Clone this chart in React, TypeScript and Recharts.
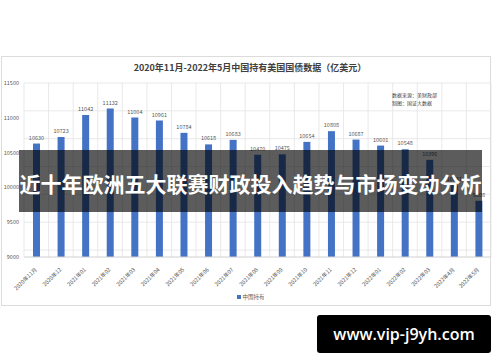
import React from "react";
import { BarChart, Bar, XAxis, YAxis, CartesianGrid, LabelList } from "recharts";

// China's holdings of US treasuries, Nov 2020 - May 2022 (100 million USD)
const months = [
  "2020年11月", "2020年12", "2021年01", "2021年02", "2021年03", "2021年04", "2021年05",
  "2021年06", "2021年07", "2021年08", "2021年09", "2021年10", "2021年11", "2021年12",
  "2022年01", "2022年02", "2022年03", "2022年4月", "2022年5月",
];
const holdings = [
  10630, 10723, 11042, 11132, 11004, 10961, 10784, 10618, 10683, 10470,
  10475, 10654, 10808, 10687, 10601, 10548, 10396, 10031, 9808,
];
const yTicks = [9000, 9500, 10000, 10500, 11000, 11500];

const data = months.map((m, i) => ({ month: m, value: holdings[i], idx: i }));

// minor grid every 100, and vertical lines on the category edges
const minorY: number[] = [];
for (let v = 9000; v <= 11500; v += 100) minorY.push(v);
const edges = months.map((_, i) => i).concat([months.length]);

const grey = "#595959";
const cjk = '"Noto Sans CJK SC", "Noto Sans", sans-serif';

function MonthTick(props: any) {
  const { x, y, payload } = props;
  return (
    <text
      x={x + 1}
      y={y + 5}
      transform={`rotate(-45, ${x + 1}, ${y + 5})`}
      textAnchor="end"
      fontSize={5.5}
      fill={grey}
      fontFamily={cjk}
    >
      {payload.value}
    </text>
  );
}

export default function App() {
  return (
    <div style={{ position: "absolute", left: 0, top: 0, width: 500, height: 362, background: "#fff", fontFamily: cjk }}>
      {/* card */}
      <div style={{ position: "absolute", left: 1, top: 56, width: 488, height: 248, border: "1px solid #dcdcdc", background: "#fff" }} />
      <div style={{ position: "absolute", left: 0, top: 62, width: 500, textAlign: "center", fontSize: 9, lineHeight: "12px", fontWeight: 700, color: "#404040" }}>
        2020年11月-2022年5月中国持有美国国债数据（亿美元）
      </div>
      <div style={{ position: "absolute", left: 0, top: 0 }}>
        <BarChart width={500} height={362} data={data} margin={{ top: 83, right: 9, bottom: 65, left: 0 }}>
          <CartesianGrid
            xAxisId="grid"
            stroke="#e3e3e3"
            strokeWidth={0.8}
            horizontalValues={minorY}
            verticalValues={edges}
          />
          <XAxis xAxisId="grid" type="number" dataKey="idx" domain={[0, months.length]} ticks={edges} hide />
          <XAxis
            dataKey="month"
            interval={0}
            height={40}
            tick={<MonthTick />}
            tickLine={false}
            axisLine={{ stroke: "#d0d0d0" }}
          />
          <YAxis
            domain={[9000, 11500]}
            ticks={yTicks}
            width={24}
            tickLine={false}
            axisLine={false}
            tickSize={3}
            tickMargin={2}
            tick={{ fontSize: 5.5, fill: grey }}
          />
          <Bar dataKey="value" fill="#4472C4" barSize={7} isAnimationActive={false}>
            <LabelList dataKey="value" position="top" offset={4} fontSize={5.5} fill={grey} />
          </Bar>
        </BarChart>
      </div>
      <div style={{ position: "absolute", left: 392, top: 91, fontSize: 5, lineHeight: "8px", color: "#404040" }}>
        数据来源：美财政部
        <br />
        制图：国证大数据
      </div>
      {/* legend */}
      <div style={{ position: "absolute", left: 237, top: 293, fontSize: 5.5, lineHeight: "8px", color: grey, display: "flex", alignItems: "center" }}>
        <span style={{ display: "inline-block", width: 4, height: 4, background: "#4472C4", marginRight: 1.5 }} />
        中国持有
      </div>
      {/* overlay banner */}
      <div
        style={{
          position: "absolute", left: 19, top: 150, width: 463, height: 62,
          background: "rgba(0,0,0,0.64)", color: "#fff", fontSize: 21, fontWeight: 700,
          lineHeight: "62px", textAlign: "center", whiteSpace: "nowrap", paddingTop: 2, boxSizing: "border-box",
        }}
      >
        近十年欧洲五大联赛财政投入趋势与市场变动分析
      </div>
      <div
        style={{
          position: "absolute", left: 317, top: 315, width: 174, height: 38, background: "#000",
          borderRadius: 3, color: "#fff", fontSize: 16, fontWeight: 600, lineHeight: "38px",
          textAlign: "center", fontFamily: '"Open Sans", sans-serif',
        }}
      >
        www.vip-j9yh.com
      </div>
    </div>
  );
}
